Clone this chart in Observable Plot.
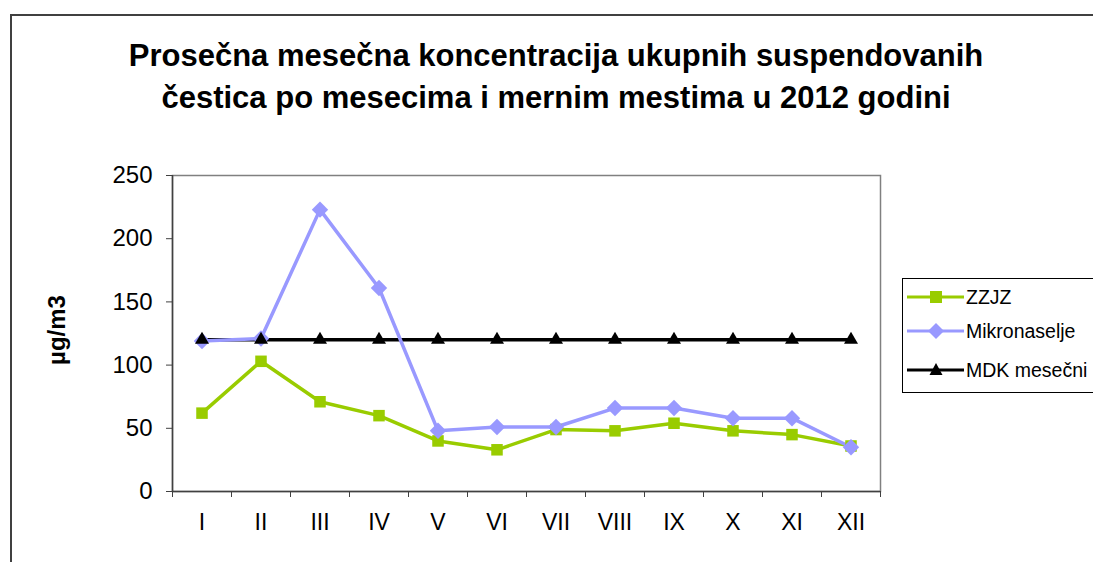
<!DOCTYPE html>
<html><head><meta charset="utf-8">
<script src="https://cdn.jsdelivr.net/npm/d3@7"></script>
<script src="https://cdn.jsdelivr.net/npm/@observablehq/plot@0.6"></script>
<style>
html,body{margin:0;padding:0;background:#fff;overflow:hidden}
body{width:1093px;height:562px;position:relative;font-family:"Liberation Sans",Arial,sans-serif}
#outer{position:absolute;left:10px;top:14px;width:1200px;height:600px;border-top:2px solid #404040;border-left:2px solid #404040}
#title{position:absolute;left:0;width:1112px;top:35px;text-align:center;font-weight:bold;font-size:31px;line-height:42px;color:#000}
#chart{position:absolute;left:0;top:0}
#ylab{position:absolute;left:57px;top:330px;transform:translate(-50%,-50%) rotate(-90deg);font-weight:bold;font-size:24px;white-space:nowrap}
#legend{position:absolute;left:902px;top:278px;width:220px;height:113px;border:1px solid #000;background:#fff}
.row{position:absolute;left:4px;height:24px;display:flex;align-items:center;font-size:19.5px;white-space:nowrap}
.row svg{margin-right:2px}
</style></head>
<body>
<div id="outer"></div>
<div id="title">Prosečna mesečna koncentracija ukupnih suspendovanih<br>čestica po mesecima i mernim mestima u 2012 godini</div>
<div id="chart"></div>
<div id="ylab">µg/m3</div>
<div id="legend">
  <div class="row" style="top:6px"><svg width="57" height="20"><line x1="0" y1="10" x2="57" y2="10" stroke="#99cc00" stroke-width="3"/><rect x="23" y="4" width="12" height="12" fill="#99cc00"/></svg>ZZJZ</div>
  <div class="row" style="top:40px"><svg width="57" height="20"><line x1="0" y1="10" x2="57" y2="10" stroke="#9999ff" stroke-width="3"/><path d="M29,2 L37,10 L29,18 L21,10Z" fill="#9999ff"/></svg>Mikronaselje</div>
  <div class="row" style="top:79px"><svg width="57" height="20"><line x1="0" y1="10" x2="57" y2="10" stroke="#000" stroke-width="3"/><path d="M29,3 L35.5,15 L22.5,15Z" fill="#000"/></svg>MDK mesečni</div>
</div>
<script>
const months = ["I","II","III","IV","V","VI","VII","VIII","IX","X","XI","XII"];
const zzjz  = [62, 103, 71, 60, 40, 33, 49, 48, 54, 48, 45, 36];
const mikro = [119, 121, 223, 161, 48, 51, 51, 66, 66, 58, 58, 35];
const mdk   = [120, 120, 120, 120, 120, 120, 120, 120, 120, 120, 120, 120];
const yTicks = [0, 50, 100, 150, 200, 250];

const rows = (vals, s) => months.map((m, i) => ({i: i + 0.5, m, v: vals[i], s}));
const dZ = rows(zzjz, "ZZJZ"), dM = rows(mikro, "Mikronaselje"), dK = rows(mdk, "MDK mesečni");

const plot = Plot.plot({
  width: 1093, height: 562,
  marginLeft: 172, marginRight: 213, marginTop: 175, marginBottom: 71,
  style: {fontFamily: "'Liberation Sans', Arial, sans-serif", background: "transparent"},
  x: {type: "linear", domain: [0, 12]},
  y: {domain: [0, 250]},
  marks: [
    Plot.frame({stroke: "#808080", strokeWidth: 1.5}),
    Plot.axisY({ticks: yTicks, tickSize: 6, tickPadding: 14, fontSize: 24, stroke: "#404040", color: "#000", label: null}),
    Plot.axisX({ticks: d3.range(0, 13), tickFormat: () => "", tickSize: 6, stroke: "#404040", label: null}),
    Plot.axisX({ticks: months.map((m, i) => i + 0.5), tickFormat: (d) => months[Math.floor(d)], tickSize: 0, tickPadding: 22, fontSize: 23, color: "#000", label: null}),
    Plot.ruleX([0], {stroke: "#404040", strokeWidth: 1.5}),
    Plot.ruleY([0], {stroke: "#404040", strokeWidth: 1.5}),
    Plot.line(dK, {x: "i", y: "v", stroke: "#000", strokeWidth: 3.5}),
    Plot.line(dZ, {x: "i", y: "v", stroke: "#99cc00", strokeWidth: 3.5}),
    Plot.line(dM, {x: "i", y: "v", stroke: "#9999ff", strokeWidth: 3.5}),
    Plot.dot(dZ, {x: "i", y: "v", symbol: "square", r: 6.5, fill: "#99cc00", stroke: "none"}),
    Plot.dot(dM, {x: "i", y: "v", symbol: "diamond2", r: 7.4, fill: "#9999ff", stroke: "none"}),
    Plot.dot(dK, {x: "i", y: "v", symbol: "triangle", r: 5.2, fill: "#000", stroke: "none"})
  ]
});
document.getElementById("chart").appendChild(plot);
</script>
</body></html>
